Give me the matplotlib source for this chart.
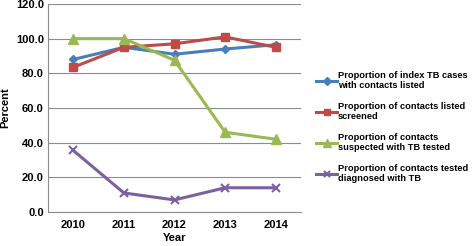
import matplotlib
matplotlib.use("Agg")
from matplotlib import pyplot as plt
import numpy as np

years = ['2010', '2011', '2012', '2013', '2014']
index_listed = [88.0, 95.0, 91.0, 94.0, 96.5]
contacts_screened = [83.5, 95.0, 97.0, 101.0, 95.0]
suspected_tested = [100.0, 100.0, 87.5, 46.0, 42.0]
tested_diagnosed = [35.5, 11.0, 7.0, 14.0, 14.0]

labels = ['Proportion of index TB cases\nwith contacts listed',
          'Proportion of contacts listed\nscreened',
          'Proportion of contacts\nsuspected with TB tested',
          'Proportion of contacts tested\ndiagnosed with TB']

plt.rcParams['font.family'] = ['Liberation Sans', 'DejaVu Sans']

fig = plt.figure(figsize=(4.73, 2.46), dpi=100)
ax = fig.add_axes([0.1015, 0.138, 0.535, 0.846])

x = np.arange(len(years))
ax.plot(x, index_listed, color='#4A7EBB', lw=2.2, marker='D', ms=4.5, label=labels[0])
ax.plot(x, contacts_screened, color='#BE4B48', lw=2.2, marker='s', ms=6, label=labels[1])
ax.plot(x, suspected_tested, color='#98B954', lw=2.2, marker='^', ms=6.5, label=labels[2])
ax.plot(x, tested_diagnosed, color='#7D60A0', lw=2.2, marker='x', ms=6, mew=1.5, label=labels[3])

ax.set_xlim(-0.5, 4.5)
ax.set_ylim(0, 120)
ax.set_yticks(np.arange(0, 121, 20))
ax.set_yticklabels(['%.1f' % v for v in np.arange(0, 121, 20)])
ax.set_xticks(x)
ax.set_xticklabels(years)
ax.yaxis.grid(True, color='#8c8c8c', lw=0.8)
ax.set_axisbelow(True)
for s in ['top', 'right']:
    ax.spines[s].set_visible(False)
ax.spines['left'].set_color('#8c8c8c')
ax.spines['bottom'].set_color('#8c8c8c')
ax.tick_params(axis='x', length=0, pad=6)
ax.tick_params(axis='y', length=0, pad=3)
for t in ax.get_xticklabels() + ax.get_yticklabels():
    t.set_fontsize(8)
    t.set_fontweight('bold')
ax.set_xlabel('Year', fontsize=8, fontweight='bold', labelpad=2)
ax.set_ylabel('Percent', fontsize=8, fontweight='bold', labelpad=4)

fig.legend(loc='center left', bbox_to_anchor=(0.65, 0.484), frameon=False,
           prop={'size': 6.7, 'weight': 'bold'}, handlelength=2.3, handletextpad=0.1,
           labelspacing=1.25, markerscale=0.8)

fig.savefig('out.png', dpi=100)
